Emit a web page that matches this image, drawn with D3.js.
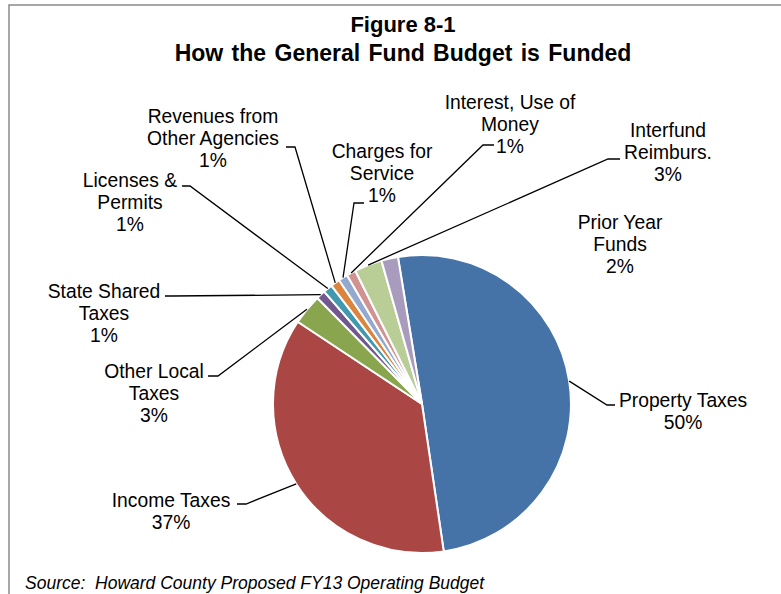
<!DOCTYPE html>
<html lang="en"><head>
<meta charset="utf-8">
<title>General Fund pie</title>
<script src="https://cdn.jsdelivr.net/npm/d3@7"></script>
<style>
  body { margin: 0; background: #fff; }
  text { font-family: "Liberation Sans", Arial, sans-serif; fill: #000; }
</style>
</head>
<body>
<svg width="781" height="594"></svg>
<script>
// data (percent of the general fund)
var categories = ["Property Taxes", "Income Taxes", "Other Local\nTaxes", "State Shared\nTaxes",
                  "Licenses &\nPermits", "Revenues from\nOther Agencies", "Charges for\nService",
                  "Interest, Use of\nMoney", "Interfund\nReimburs.", "Prior Year\nFunds"];
var shares = [50.2, 36.6, 3.3, 1.0, 1.0, 1.0, 1.0, 1.0, 3.0, 1.8];
var colors = ["#4572A7", "#AA4643", "#89A54E", "#71588F", "#4198AF",
              "#DB843D", "#93A9CF", "#D19392", "#B9CD96", "#A99BBD"];

// hand placed labels, like the original (x = text centre, y = first baseline,
// leader: t = end next to the text, b = bend point, ly = stub height)
var labelPos = [
  {x: 683, y: 407, t: 615, b: 607, ly: 405},
  {x: 171, y: 507, t: 237, b: 246, ly: 504},
  {x: 154, y: 378, t: 208, b: 218, ly: 376},
  {x: 104, y: 298, t: 165, b: 172, ly: 296},
  {x: 130, y: 187, t: 182, b: 190, ly: 186},
  {x: 213, y: 123, t: 286, b: 295, ly: 147},
  {x: 382, y: 158, t: 364, b: 354, ly: 203},
  {x: 510, y: 109, t: 494, b: 483, ly: 145},
  {x: 668, y: 137, t: 620, b: 608, ly: 159},
  {x: 620, y: 229, t: null}
];

var svg = d3.select("svg"),
    width = +svg.attr("width"),
    height = +svg.attr("height");

var cx = 422, cy = 404, r = 149;
var start = -9.3 * Math.PI / 180;

// frame of the chart area (runs off right and bottom)
svg.append("rect")
   .attr("x", 9).attr("y", 5)
   .attr("width", 900).attr("height", 800)
   .attr("fill", "none")
   .attr("stroke", "#8a8a8a")
   .attr("stroke-width", 1.5);

svg.append("text")
   .attr("x", 403).attr("y", 32)
   .attr("text-anchor", "middle")
   .attr("font-weight", "bold")
   .style("font-size", "22px")
   .text("Figure 8-1");

svg.append("text")
   .attr("x", 403).attr("y", 61)
   .attr("text-anchor", "middle")
   .attr("font-weight", "bold")
   .style("font-size", "23px")
   .style("word-spacing", "2px")
   .text("How the General Fund Budget is Funded");

var pie = d3.pie().sort(null).value(function(d) { return d; })
            .startAngle(start).endAngle(start + 2 * Math.PI);
var arcs = pie(shares);
var arc = d3.arc().innerRadius(0).outerRadius(r);

var g = svg.append("g").attr("transform", "translate(" + cx + "," + cy + ")");

g.selectAll("path")
 .data(arcs)
 .enter()
 .append("path")
 .attr("d", arc)
 .attr("fill", function(d, i) { return colors[i]; })
 .attr("stroke", "#fff")
 .attr("stroke-width", 2);

// leader lines: from the label stub to the middle of the slice's rim
svg.selectAll(".leader")
   .data(arcs.filter(function(d, i) { return labelPos[i].t !== null; }))
   .enter()
   .append("path")
   .attr("class", "leader")
   .attr("fill", "none")
   .attr("stroke", "#000")
   .attr("stroke-width", 1.3)
   .attr("d", function(d) {
      var p = labelPos[d.index];
      var a = (d.startAngle + d.endAngle) / 2;
      var ex = cx + r * Math.sin(a), ey = cy - r * Math.cos(a);
      return "M" + p.t + "," + p.ly + "L" + p.b + "," + p.ly + "L" + ex + "," + ey;
   });

var labels = svg.selectAll(".lbl")
   .data(arcs)
   .enter()
   .append("text")
   .attr("class", "lbl")
   .attr("text-anchor", "middle")
   .style("font-size", "19.3px");

labels.each(function(d, i) {
   var p = labelPos[i];
   var lines = categories[i].split("\n").concat([Math.round(shares[i]) + "%"]);
   d3.select(this).selectAll("tspan")
     .data(lines)
     .enter()
     .append("tspan")
     .attr("x", p.x)
     .attr("y", function(l, j) { return p.y + j * 22; })
     .text(function(l) { return l; });
});

svg.append("text")
   .attr("x", 25).attr("y", 589)
   .style("font-size", "17.5px")
   .style("font-style", "italic")
   .attr("xml:space", "preserve")
   .text("Source:  Howard County Proposed FY13 Operating Budget");
</script>
</body>
</html>
